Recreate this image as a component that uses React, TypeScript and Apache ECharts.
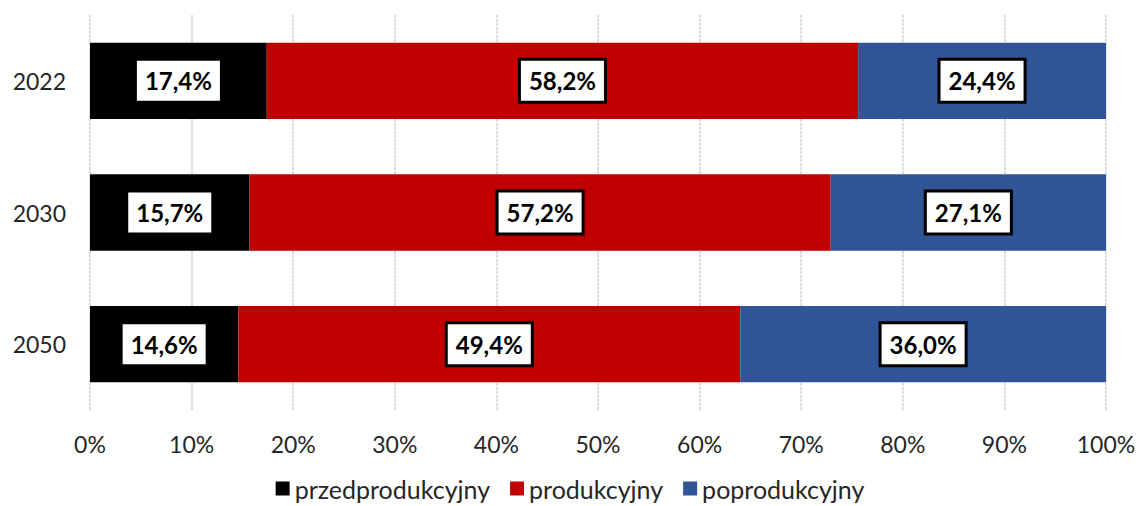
import React, { useEffect, useRef } from "react";
import * as echarts from "echarts";

const categories = ["2022", "2030", "2050"];
const seriesNames = ["przedprodukcyjny", "produkcyjny", "poprodukcyjny"];
const przed = [17.4, 15.7, 14.6];
const prod = [58.2, 57.2, 49.4];
const popr = [24.4, 27.1, 36.0];
const colors = ["#000000", "#c00000", "#2f5597"];
const FONT = "Lato, 'Noto Sans', sans-serif";

export default function App() {
  const ref = useRef<HTMLDivElement>(null);
  useEffect(() => {
    const chart = echarts.init(ref.current!, null, { renderer: "svg" });
    const datas = [przed, prod, popr];
    chart.setOption({
      animation: false,
      grid: { left: 90, right: 34, top: 15, bottom: 96 },
      legend: {
        bottom: 0,
        left: "center",
        itemWidth: 14,
        itemHeight: 14,
        itemGap: 20,
        icon: "rect",
        textStyle: { fontFamily: FONT, fontSize: 25, color: "#262626" },
        data: seriesNames,
      },
      xAxis: {
        type: "value",
        min: 0,
        max: 100,
        interval: 10,
        axisLine: { show: false },
        axisTick: { show: false },
        axisLabel: {
          formatter: "{value}%",
          fontFamily: FONT,
          fontSize: 23,
          color: "#262626",
          margin: 22,
        },
        splitLine: { show: true, lineStyle: { color: "#d0d0d0", width: 1.5, type: [3, 1] } },
      },
      yAxis: {
        type: "category",
        data: categories,
        inverse: true,
        axisLine: { show: false },
        axisTick: { show: false },
        axisLabel: { fontFamily: FONT, fontSize: 23, color: "#262626", margin: 24 },
      },
      series: datas.map((d, i) => ({
        name: seriesNames[i],
        type: "bar",
        stack: "total",
        data: d,
        barWidth: "58%",
        itemStyle: { color: colors[i] },
        label: {
          show: true,
          position: "inside",
          formatter: (p: any) => p.value.toFixed(1).replace(".", ",") + "%",
          fontFamily: FONT,
          fontWeight: "bold",
          fontSize: 24,
          color: "#000",
          backgroundColor: "#fff",
          borderColor: "#000",
          borderWidth: 3,
          padding: [9, 8, 7, 8],
        },
      })),
    });
    return () => chart.dispose();
  }, []);
  return (
    <div
      ref={ref}
      style={{ position: "fixed", left: 0, top: 0, width: 1140, height: 506, background: "#fff" }}
    />
  );
}
